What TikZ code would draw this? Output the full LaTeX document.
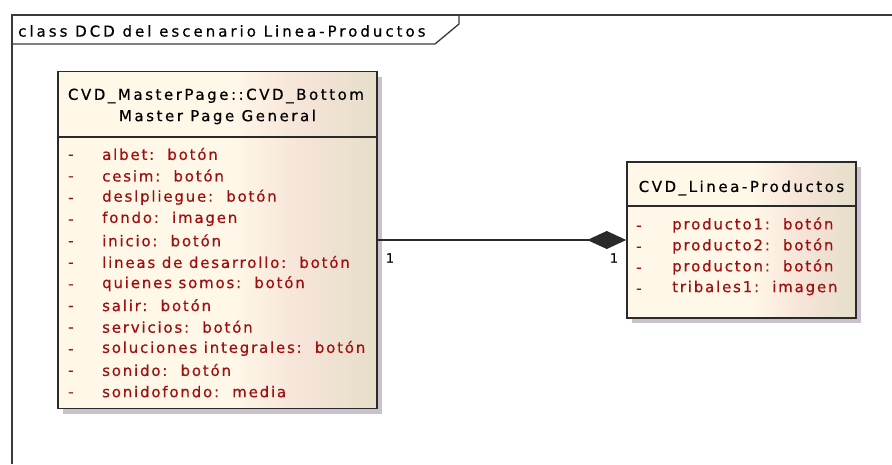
\documentclass[tikz,border=0pt]{standalone}
\usepackage{fontspec}
\usetikzlibrary{arrows.meta,shadows}
\newfontfamily\umlhead[LetterSpace=17,FakeBold=0.5]{DejaVu Sans}
\newfontfamily\umlframe[LetterSpace=20,FakeBold=0.5]{DejaVu Sans}
\newfontfamily\umlattr[LetterSpace=12,FakeBold=0.5]{DejaVu Sans}
\definecolor{attrred}{HTML}{9C1010}
\definecolor{frameline}{HTML}{3A3A3A}
\definecolor{boxline}{HTML}{2A2A2A}
\definecolor{creamL}{HTML}{FFF8E8}
\definecolor{creamP}{HTML}{F6E4D8}
\definecolor{creamR}{HTML}{E6DECA}
\definecolor{shadowc}{HTML}{C9C1CC}
% class fill: cream on the left half, turning pinkish beige towards the right
\pgfdeclarehorizontalshading{umlfill}{100bp}{color(0bp)=(creamL); color(25bp)=(creamL);
  color(52bp)=(creamL); color(63bp)=(creamP); color(75bp)=(creamR); color(100bp)=(creamR)}
\tikzset{
  classbox/.style={draw=boxline, line width=1.5pt, rectangle, inner sep=0pt,
    shading=umlfill,
    drop shadow={shadow xshift=5pt, shadow yshift=-5pt, fill=shadowc, opacity=1}},
  headtxt/.style={font=\umlhead\fontsize{15}{17}\selectfont, text=black, inner sep=0pt},
  attrtxt/.style={font=\umlattr\fontsize{15}{17}\selectfont, text=attrred, inner sep=0pt, anchor=west},
  sepline/.style={draw=boxline, line width=1.5pt},
  multtxt/.style={font=\umlhead\fontsize{13}{15}\selectfont, inner sep=0pt}
}
\begin{document}
\begin{tikzpicture}[x=1pt,y=-1pt]
\useasboundingbox[fill=white] (0,0) rectangle (892,464);

% diagram frame with its name tab
\draw[frameline, line width=2pt] (11.5,464) -- (11.5,15) -- (892,15);
\draw[frameline, line width=1.3pt] (11.5,44) -- (435,44) -- (459,24) -- (459,15);
\node[headtxt, font=\umlframe\fontsize{15}{17}\selectfont, anchor=west] (frametitle) at (18,31)
  {class DCD del escenario Linea-Productos};

% class CVD_MasterPage::CVD_Bottom
\node[classbox, minimum width=319pt, minimum height=337pt] (master) at (217.5,240) {};
\draw[sepline] (master.west |- 0,137) -- (master.east |- 0,137);
\node[headtxt] (mtitleA) at (216,96) {CVD\_MasterPage::CVD\_Bottom};
\node[headtxt] (mtitleB) at (217.5,117) {Master Page General};
\foreach \t [count=\i from 0] in {albet:~~botón, cesim:~~botón, deslpliegue:~~botón,
    fondo:~~imagen, inicio:~~botón, lineas de desarrollo:~~botón, quienes somos:~~botón,
    salir:~~botón, servicios:~~botón, soluciones integrales:~~botón, sonido:~~botón,
    sonidofondo:~~media} {
  \node[attrtxt] (mdash\i) at (68,157+21.6*\i) {-};
  \node[attrtxt] (mattr\i) at (102,154+21.6*\i) {\t};
}

% class CVD_Linea-Productos
\node[classbox, minimum width=229pt, minimum height=156pt] (linea) at (741.5,240) {};
\draw[sepline] (linea.west |- 0,206) -- (linea.east |- 0,206);
\node[headtxt] (ltitle) at (741.5,188) {CVD\_Linea-Productos};
\foreach \t [count=\i from 0] in {producto1:~~botón, producto2:~~botón,
    producton:~~botón, tribales1:~~imagen} {
  \node[attrtxt] (ldash\i) at (636,228+21*\i) {-};
  \node[attrtxt] (lattr\i) at (672,225+21*\i) {\t};
}

% composition association
\draw[boxline, line width=1.5pt, -{Diamond[length=39pt, width=18pt]}]
  (master.east) -- (linea.west);
\node[multtxt] (multA) at (390,258) {1};
\node[multtxt] (multB) at (614,258) {1};
\end{tikzpicture}
\end{document}
